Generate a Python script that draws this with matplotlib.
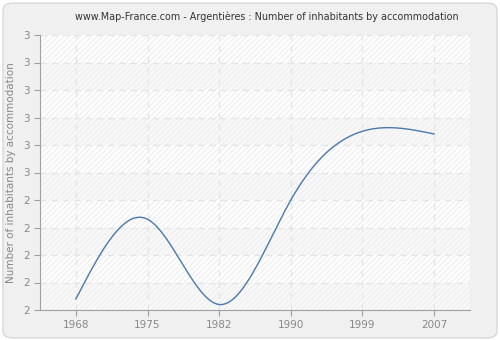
import numpy as np
import matplotlib
matplotlib.use("Agg")
import matplotlib.pyplot as plt
from matplotlib.patches import FancyBboxPatch

years = [1968, 1975, 1982, 1990, 1999, 2007]
values = [2.04, 2.33, 2.02, 2.40, 2.65, 2.64]
yticks = [2.0, 2.1, 2.2, 2.3, 2.4, 2.5, 2.6, 2.7, 2.8, 2.9, 3.0]
ytick_labels = ["2", "2", "2", "2", "2", "3", "3", "3", "3", "3", "3"]
title = "www.Map-France.com - Argentières : Number of inhabitants by accommodation"
ylabel = "Number of inhabitants by accommodation"


def natural_spline(x, y, xs):
    x = np.asarray(x, float)
    y = np.asarray(y, float)
    n = len(x)
    h = np.diff(x)
    A = np.zeros((n, n))
    b = np.zeros(n)
    A[0, 0] = 1
    A[-1, -1] = 1
    for i in range(1, n - 1):
        A[i, i - 1] = h[i - 1]
        A[i, i] = 2 * (h[i - 1] + h[i])
        A[i, i + 1] = h[i]
        b[i] = 3 * ((y[i + 1] - y[i]) / h[i] - (y[i] - y[i - 1]) / h[i - 1])
    c = np.linalg.solve(A, b)
    out = np.empty_like(xs)
    for k, xv in enumerate(xs):
        i = min(max(np.searchsorted(x, xv) - 1, 0), n - 2)
        dx = xv - x[i]
        bi = (y[i + 1] - y[i]) / h[i] - h[i] * (2 * c[i] + c[i + 1]) / 3
        di = (c[i + 1] - c[i]) / (3 * h[i])
        out[k] = y[i] + bi * dx + c[i] * dx ** 2 + di * dx ** 3
    return out


fig = plt.figure(figsize=(5.0, 3.4), dpi=100)
fig.patch.set_facecolor("white")
bg = FancyBboxPatch((0.006, 0.006), 0.988, 0.985, boxstyle="round,pad=0,rounding_size=0.02",
                    transform=fig.transFigure, facecolor="#f0f0f0", edgecolor="#d8d8d8",
                    linewidth=1.0, zorder=-10)
fig.patches.append(bg)

ax = fig.add_axes([40 / 500, 30 / 340, 430 / 500, 275 / 340])
ax.set_facecolor("#ffffff")
pos = np.arange(len(years))
ax.set_xlim(-0.5, len(years) - 0.5)
ax.set_ylim(2.0, 3.0)

# alternating bands with faint hatch
for i in range(10):
    lo = yticks[i]
    hi = yticks[i + 1]
    fc = "#f8f8f8" if i % 2 == 0 else "#ffffff"
    ax.axhspan(lo, hi, facecolor=fc, edgecolor="#f0f0f0", hatch="//////", linewidth=0, zorder=0)

ax.set_yticks(yticks)
ax.set_yticklabels(ytick_labels)
ax.set_xticks(pos)
ax.set_xticklabels([str(y) for y in years])
ax.grid(True, color="#e4e4e4", linestyle=(0, (5, 4)), linewidth=0.9, zorder=1)
ax.set_axisbelow(True)

xs = np.linspace(pos[0], pos[-1], 400)
ax.plot(xs, natural_spline(pos, values, xs), color="#4a78b0", linewidth=1.0, zorder=3)

for s in ["top", "right"]:
    ax.spines[s].set_visible(False)
for s in ["left", "bottom"]:
    ax.spines[s].set_color("#a0a0a0")
    ax.spines[s].set_zorder(4)
ax.tick_params(axis="both", colors="#a0a0a0", labelcolor="#888888", labelsize=7.5, length=4, width=0.8)

ax.set_ylabel(ylabel, color="#888888", fontsize=7.5, labelpad=5)
fig.text(267 / 500, 1 - 17 / 340, title, ha="center", va="center", fontsize=6.9, color="#333333")

fig.savefig("out.png", dpi=100, facecolor=fig.get_facecolor())
